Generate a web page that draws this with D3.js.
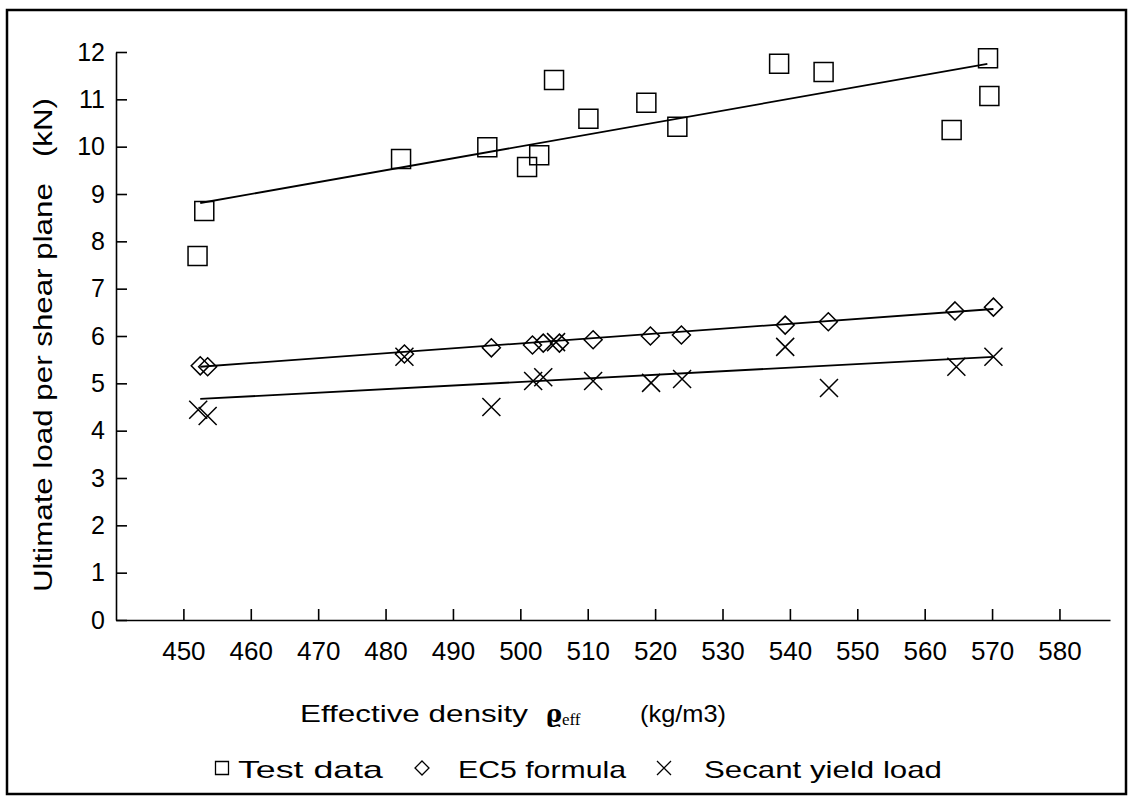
<!DOCTYPE html>
<html>
<head>
<meta charset="utf-8">
<script src="https://cdn.jsdelivr.net/npm/d3@7"></script>
<style>
  body { margin: 0; background: #fff; }
  svg text { font-family: "Liberation Sans", Arial, sans-serif; fill: #000; white-space: pre; }
</style>
</head>
<body>
<div id="viz"></div>
<script>
// values
var xTicks = [450, 460, 470, 480, 490, 500, 510, 520, 530, 540, 550, 560, 570, 580];
var yTicks = [0, 1, 2, 3, 4, 5, 6, 7, 8, 9, 10, 11, 12];

var testX = [452.1, 453.1, 482.3, 495.1, 501.0, 502.8, 505.0, 510.1, 518.7, 523.3, 538.4, 545.0, 564.0, 569.4, 569.6];
var testY = [7.69, 8.64, 9.74, 9.99, 9.57, 9.82, 11.41, 10.59, 10.93, 10.42, 11.75, 11.58, 10.35, 11.87, 11.07];

var ec5X = [452.5, 453.6, 482.8, 495.7, 501.8, 503.4, 505.8, 510.8, 519.3, 523.9, 539.3, 545.7, 564.5, 570.2];
var ec5Y = [5.37, 5.35, 5.62, 5.75, 5.81, 5.85, 5.85, 5.92, 6.00, 6.02, 6.23, 6.30, 6.53, 6.61];

var secX = [452.2, 453.6, 482.8, 495.7, 501.9, 503.4, 505.3, 510.8, 519.4, 524.0, 539.3, 545.8, 564.7, 570.2];
var secY = [4.44, 4.31, 5.56, 4.50, 5.05, 5.13, 5.87, 5.05, 5.01, 5.09, 5.77, 4.90, 5.35, 5.56];

// fitted lines (end points)
var testFitX = [452.5, 569.3], testFitY = [8.81, 11.75];
var ec5FitX = [452.5, 570.2], ec5FitY = [5.35, 6.57];
var secFitX = [452.5, 570.2], secFitY = [4.67, 5.56];

var legendLabels = ["Test data", "EC5 formula", "Secant yield load"];

var W = 1131, H = 806;

var svg = d3.select("#viz").append("svg")
  .attr("width", W)
  .attr("height", H);

// outer frame
svg.append("rect")
  .attr("x", 7).attr("y", 10)
  .attr("width", 1119).attr("height", 784)
  .attr("fill", "none")
  .attr("stroke", "#000")
  .attr("stroke-width", 2.5);

var x = d3.scaleLinear().domain([440, 587.5]).range([116, 1110]);
var y = d3.scaleLinear().domain([0, 12]).range([620, 52]);

// x axis
var xAxis = d3.axisBottom(x)
  .tickValues(xTicks)
  .tickSizeInner(-11)
  .tickSizeOuter(0)
  .tickPadding(22);

var gx = svg.append("g")
  .attr("transform", "translate(0," + y(0) + ")")
  .call(xAxis);
gx.selectAll("text").style("font-size", "26px");

// y axis
var yAxis = d3.axisLeft(y)
  .tickValues(yTicks)
  .tickSizeInner(-11)
  .tickSizeOuter(0)
  .tickPadding(11);

var gy = svg.append("g")
  .attr("transform", "translate(" + x(440) + ",0)")
  .call(yAxis);
gy.selectAll("text").style("font-size", "25px");

svg.selectAll(".domain, .tick line")
  .attr("stroke", "#000")
  .attr("stroke-width", 1.6);

// y title
svg.append("text")
  .attr("transform", "translate(52,592) rotate(-90)")
  .attr("text-anchor", "start")
  .attr("textLength", 494)
  .attr("lengthAdjust", "spacingAndGlyphs")
  .style("font-size", "25px")
  .text("Ultimate load per shear plane   (kN)");

// x title
var xt = svg.append("text")
  .attr("y", 722)
  .style("font-size", "24px");
xt.append("tspan").attr("x", 300).attr("textLength", 228)
  .attr("lengthAdjust", "spacingAndGlyphs").text("Effective density");
xt.append("tspan").attr("x", 546)
  .style("font-family", "'DejaVu Serif', serif").style("font-weight", "bold")
  .style("font-size", "24px").text("ϱ");
xt.append("tspan").attr("dy", 3)
  .style("font-family", "'Liberation Serif', serif")
  .style("font-size", "17px").text("eff");
xt.append("tspan").attr("x", 640).attr("dy", -3).attr("textLength", 86)
  .attr("lengthAdjust", "spacingAndGlyphs").text("(kg/m3)");

// fit lines
var line = d3.line()
  .x(function (d) { return x(d[0]); })
  .y(function (d) { return y(d[1]); });

[[testFitX, testFitY], [ec5FitX, ec5FitY], [secFitX, secFitY]].forEach(function (f) {
  svg.append("path")
    .datum(d3.zip(f[0], f[1]))
    .attr("d", line)
    .attr("fill", "none")
    .attr("stroke", "#000")
    .attr("stroke-width", 1.8);
});

// marker shapes
function squarePath(s) { return "M" + (-s) + "," + (-s) + "H" + s + "V" + s + "H" + (-s) + "Z"; }
function diamondPath(s) { return "M0," + (-s) + "L" + s + ",0L0," + s + "L" + (-s) + ",0Z"; }
function crossPath(s) { return "M" + (-s) + "," + (-s) + "L" + s + "," + s + "M" + (-s) + "," + s + "L" + s + "," + (-s); }

function drawPoints(xs, ys, shape) {
  svg.append("g").selectAll("path")
    .data(d3.zip(xs, ys))
    .enter().append("path")
    .attr("transform", function (d) { return "translate(" + x(d[0]) + "," + y(d[1]) + ")"; })
    .attr("d", shape)
    .attr("fill", "none")
    .attr("stroke", "#000")
    .attr("stroke-width", 1.5);
}

drawPoints(testX, testY, squarePath(9.5));
drawPoints(ec5X, ec5Y, diamondPath(9));
drawPoints(secX, secY, crossPath(9));

// legend
var legendItems = [
  { sym: squarePath(6.5), sx: 222, tx: 238, tl: 145, label: legendLabels[0] },
  { sym: diamondPath(7), sx: 422, tx: 458, tl: 168, label: legendLabels[1] },
  { sym: crossPath(7), sx: 664, tx: 704, tl: 238, label: legendLabels[2] }
];
var legend = svg.selectAll(".legend")
  .data(legendItems)
  .enter().append("g")
  .attr("class", "legend");

legend.append("path")
  .attr("transform", function (d) { return "translate(" + d.sx + ",768)"; })
  .attr("d", function (d) { return d.sym; })
  .attr("fill", "none")
  .attr("stroke", "#000")
  .attr("stroke-width", 1.3);

legend.append("text")
  .attr("x", function (d) { return d.tx; })
  .attr("y", 778)
  .attr("textLength", function (d) { return d.tl; })
  .attr("lengthAdjust", "spacingAndGlyphs")
  .style("font-size", "24px")
  .text(function (d) { return d.label; });
</script>
</body>
</html>
